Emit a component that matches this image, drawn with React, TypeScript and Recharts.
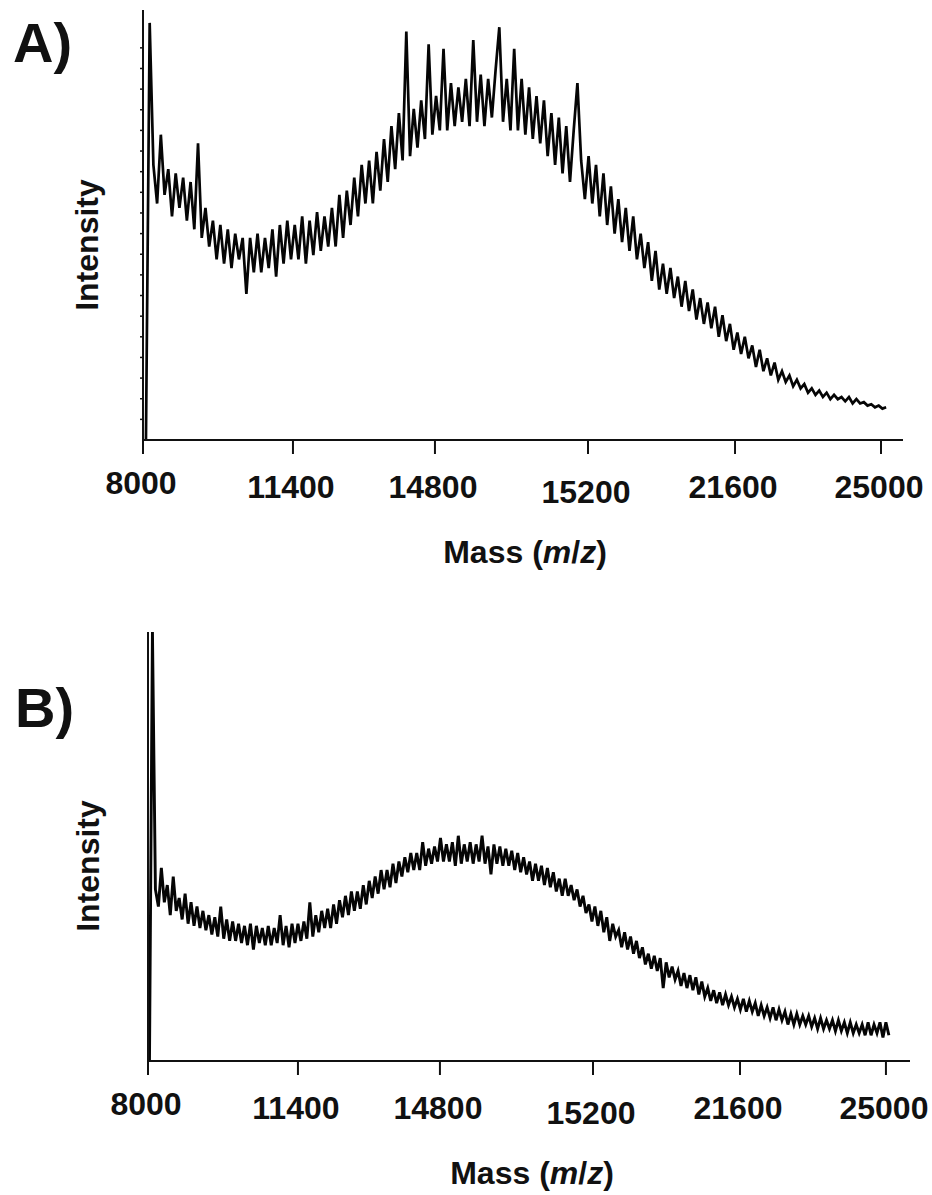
import { LineChart, Line, XAxis, YAxis } from 'recharts';

const TICK_LABELS = ['8000', '11400', '14800', '15200', '21600', '25000'];
const TICK_POS = [0, 1.016, 1.978, 3.015, 4.011, 5];
const A_Y_TICKS = [4.8, 9.6, 14.4, 19.2, 24, 28.8, 33.6, 38.4, 43.2, 48, 52.8, 57.6, 62.4, 67.2, 72, 76.8, 81.6, 86.4, 91.2];

// spectrum A: sampled every A_STEP tick units from A_START
const A_START = 0.02;
const A_STEP = 0.0252;
const A_INTENSITY = [
  0, 97, 64, 55, 71, 57, 63, 52, 62, 54,
  61, 51, 60, 49, 69, 47, 54, 45, 51, 42,
  50, 41, 49, 40, 48, 42, 47, 34, 47, 39,
  48, 39, 47, 40, 49, 38, 50, 41, 51, 42,
  50, 42, 52, 41, 51, 43, 53, 44, 52, 45,
  54, 45, 57, 47, 58, 50, 61, 52, 64, 55,
  65, 55, 67, 58, 70, 60, 73, 63, 76, 65,
  95, 66, 77, 68, 79, 70, 92, 71, 80, 72,
  91, 72, 83, 73, 82, 74, 84, 73, 93, 74,
  85, 73, 84, 75, 86, 96, 74, 84, 72, 91,
  72, 84, 71, 82, 70, 80, 69, 79, 66, 76,
  64, 75, 62, 73, 60, 72, 83, 65, 56, 66,
  55, 64, 52, 62, 50, 59, 48, 56, 46, 54,
  44, 52, 42, 48, 40, 46, 37, 44, 35, 41,
  34, 40, 33, 38, 31, 37, 30, 35, 28, 33,
  27, 32, 26, 31, 24, 29, 23, 27, 21, 25,
  20, 24, 19, 22, 17, 21, 16, 19, 15, 18,
  14, 16, 13.5, 15, 12.5, 14, 12, 13, 11, 12,
  10.5, 11.5, 10, 11, 9.5, 10.5, 9.5, 10, 9, 10,
  8.5, 9.5, 8.5, 8.8, 8, 8.3, 7.6, 8, 7.3, 7.6,
];

// spectrum B
const B_START = 0.01;
const B_STEP = 0.02012;
const B_INTENSITY = [
  0, 100, 40, 36, 45, 37, 41, 34, 43, 35,
  38, 33, 39, 32, 37, 31.5, 36, 31, 35, 30.5,
  34, 29.5, 33.5, 29, 36, 28.5, 33, 28, 32.5, 28,
  32, 27.5, 31.5, 27, 32, 26, 31.5, 27.5, 31, 27,
  31.5, 27, 31, 27.5, 34, 27, 31.5, 26.5, 32, 27.5,
  32, 28, 32.5, 28.5, 37, 29, 34, 30, 35, 31,
  35.5, 31, 36.5, 32, 37.5, 33.5, 38.5, 34, 39.5, 35,
  39.5, 35.5, 41, 36.5, 42, 38, 43, 39, 44.5, 40,
  44.5, 40.5, 46, 41.5, 46.5, 43, 47.5, 44, 48.5, 44.5,
  48.5, 44.5, 51, 45.5, 49.5, 46, 50, 46.5, 52, 46.5,
  50.5, 46.5, 51, 45.5, 52.5, 46, 50.5, 46.5, 51, 46,
  50.5, 46.5, 52.5, 46, 50, 43.5, 50.5, 46, 50, 45.5,
  49.5, 45.5, 49, 44.5, 48.5, 44, 47.5, 43.5, 46.5, 42,
  46, 42, 45.5, 41, 45, 40.5, 44, 39.5, 42.5, 38.5,
  42.5, 38.5, 41, 37.5, 40, 36, 38.5, 34.5, 36.5, 32.5,
  36, 31.5, 35, 30, 33.5, 28, 32, 29, 30.5, 26.5,
  30, 26, 29, 25, 28, 24, 26.5, 22.5, 25, 21.5,
  24.5, 21, 24, 17, 23, 19.5, 22, 19, 21, 17.5,
  20.5, 17, 20, 16.5, 19.5, 15.5, 18.5, 15, 17, 14,
  16.5, 13.5, 16, 13, 15.5, 13, 15, 12.5, 14.5, 12,
  14.5, 11.5, 14, 11.5, 13.5, 10.5, 13, 10.5, 12.5, 10,
  12.5, 9.5, 12, 9.5, 11.5, 8.5, 11, 8.5, 11, 8.5,
  10.5, 8.5, 10.5, 8, 10, 7.5, 10, 7.5, 9.5, 7.5,
  9.5, 7, 9.5, 7, 9, 6.5, 9, 6.5, 8.5, 6.5,
  8.5, 6, 9, 6, 8.5, 6.5, 9, 5.5, 9, 6,
];

const dataA = A_INTENSITY.map((v, i) => ({ x: A_START + i * A_STEP, y: v }));
const dataB = B_INTENSITY.map((v, i) => ({ x: B_START + i * B_STEP, y: v }));

const FONT = "'Liberation Sans', Arial, Helvetica, sans-serif";
// per-label baseline nudge, as in the figure
const TICK_SHIFT = [-4, 0, 0, 5, 0, 0];

const MassTick = (props: any) => {
  const { x, y, payload } = props;
  let i = TICK_POS.indexOf(payload.value);
  if (i < 0) i = props.index ?? 0;
  return (
    <text
      x={x - 2}
      y={y + 42 + TICK_SHIFT[i]}
      textAnchor="middle"
      fill="#111"
      style={{ fontFamily: FONT, fontWeight: 700, fontSize: 32 }}
    >
      {TICK_LABELS[i]}
    </text>
  );
};

function Spectrum({ data, width, height, margin, yWidth, xHeight, xMax, yTicks, strokeWidth }: any) {
  return (
    <LineChart width={width} height={height} data={data} margin={margin}>
      <XAxis
        dataKey="x"
        type="number"
        domain={[0, xMax]}
        ticks={TICK_POS}
        interval={0}
        height={xHeight}
        tickSize={14}
        tick={<MassTick />}
        axisLine={{ stroke: '#111', strokeWidth: 2 }}
        tickLine={{ stroke: '#111', strokeWidth: 2 }}
        allowDataOverflow
      />
      <YAxis
        type="number"
        domain={[0, 100]}
        width={yWidth}
        ticks={yTicks}
        interval={0}
        tickSize={yTicks.length ? 3 : 0}
        tickFormatter={() => ''}
        axisLine={{ stroke: '#111', strokeWidth: 2 }}
        tickLine={{ stroke: '#111', strokeWidth: 1.5 }}
        allowDataOverflow
      />
      <Line
        type="linear"
        dataKey="y"
        stroke="#050505"
        strokeWidth={strokeWidth}
        strokeLinejoin="miter"
        dot={false}
        isAnimationActive={false}
      />
    </LineChart>
  );
}

const textStyle = { fontFamily: FONT, fontWeight: 700, fill: '#111' } as const;

export default function App() {
  return (
    <div style={{ position: 'absolute', left: 0, top: 0, width: 932, height: 1195, background: '#fff' }}>
      <div style={{ position: 'absolute', left: 0, top: 0 }}>
        <Spectrum
          data={dataA}
          width={932}
          height={600}
          margin={{ top: 10, right: 29, bottom: 0, left: 0 }}
          yWidth={143}
          xHeight={160}
          xMax={5.149}
          yTicks={A_Y_TICKS}
          strokeWidth={2.7}
        />
      </div>
      <div style={{ position: 'absolute', left: 0, top: 600 }}>
        <Spectrum
          data={dataB}
          width={932}
          height={595}
          margin={{ top: 32, right: 22, bottom: 0, left: 0 }}
          yWidth={148}
          xHeight={134}
          xMax={5.163}
          yTicks={[]}
          strokeWidth={2.9}
        />
      </div>
      <svg
        width={932}
        height={1195}
        style={{ position: 'absolute', left: 0, top: 0, pointerEvents: 'none' }}
      >
        <text x={13} y={62} style={{ ...textStyle, fontSize: 56 }}>A)</text>
        <text x={15} y={727} style={{ ...textStyle, fontSize: 56 }}>B)</text>
        <text
          x={87}
          y={245}
          transform="rotate(-90 87 245)"
          textAnchor="middle"
          dominantBaseline="central"
          style={{ ...textStyle, fontSize: 32 }}
        >
          Intensity
        </text>
        <text
          x={88}
          y={866}
          transform="rotate(-90 88 866)"
          textAnchor="middle"
          dominantBaseline="central"
          style={{ ...textStyle, fontSize: 32 }}
        >
          Intensity
        </text>
        <text x={525} y={563} textAnchor="middle" style={{ ...textStyle, fontSize: 32 }}>
          Mass (<tspan fontStyle="italic">m</tspan>/<tspan fontStyle="italic">z</tspan>)
        </text>
        <text x={532} y={1184} textAnchor="middle" style={{ ...textStyle, fontSize: 32 }}>
          Mass (<tspan fontStyle="italic">m</tspan>/<tspan fontStyle="italic">z</tspan>)
        </text>
      </svg>
    </div>
  );
}
